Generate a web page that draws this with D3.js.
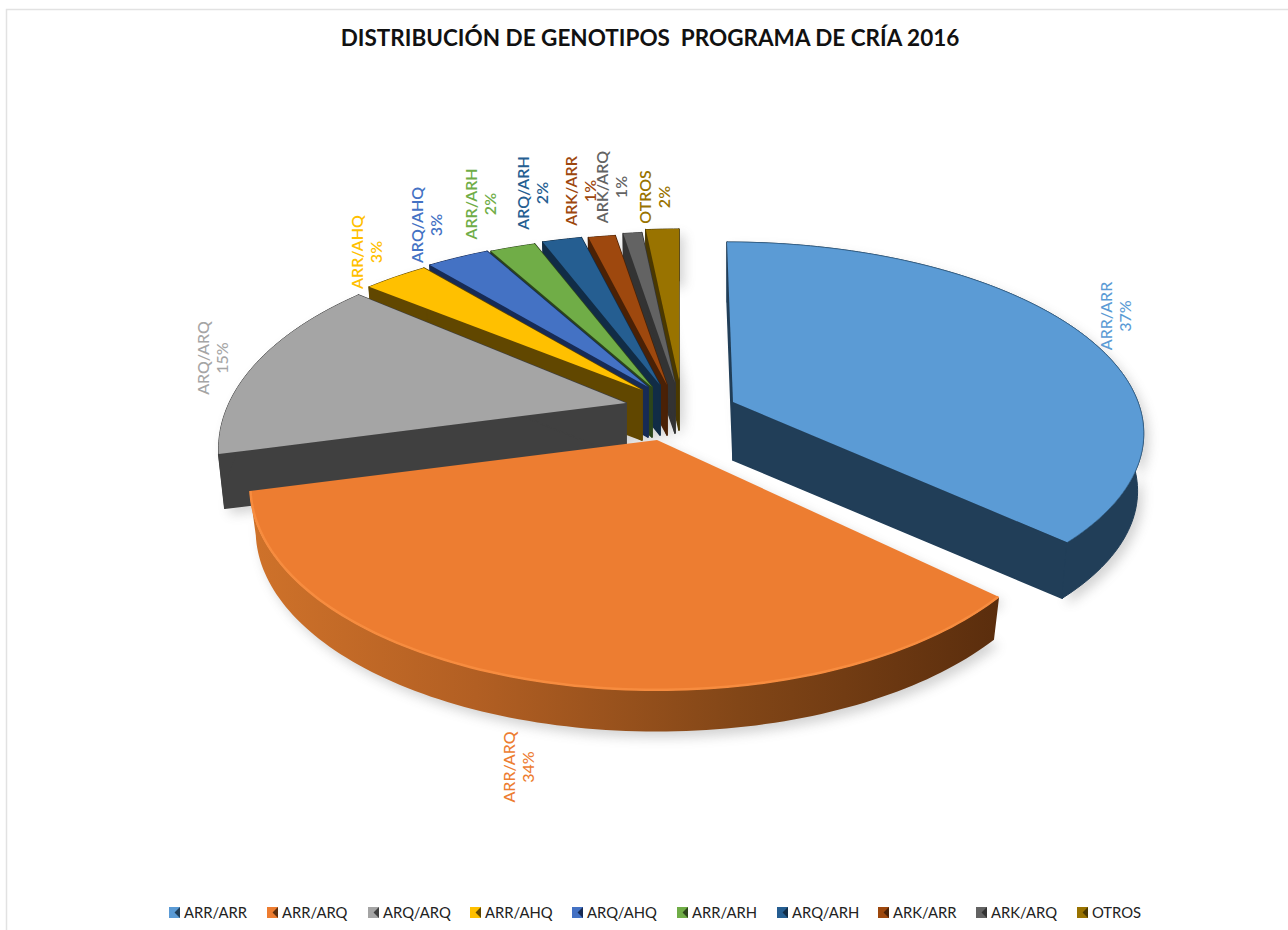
<!DOCTYPE html>
<html><head><meta charset="utf-8">
<script src="https://cdn.jsdelivr.net/npm/d3@7/dist/d3.min.js"></script>
<style>html,body{margin:0;padding:0;background:#fff}svg{display:block}text{font-family:Lato,"Open Sans",sans-serif}</style>
</head><body><svg id="c" width="1288" height="930"></svg>
<script>
const titleText = "DISTRIBUCIÓN DE GENOTIPOS  PROGRAMA DE CRÍA 2016";
const categories = ["ARR/ARR","ARR/ARQ","ARQ/ARQ","ARR/AHQ","ARQ/AHQ","ARR/ARH","ARQ/ARH","ARK/ARR","ARK/ARQ","OTROS"];
const values = [37,34,15,3.1,3,2.2,1.9,1.3,0.9,1.6];
const topColors = ["#5b9bd5","#ed7d31","#a5a5a5","#ffc000","#4472c4","#70ad47","#255e91","#9e480e","#636363","#997300"];
const wallColors = ["#213e58","#5d2f0e","#404040","#614700","#172b55","#2c451b","#112c46","#4a2106","#333333","#4a3800"];

// layout: per-slice exploded apex position on the page, wall depth and projection
const apexX = [733,657,626,642,648,652,660,667,675,679];
const apexY = [402,440,403,390,387,387,385,385,383,380];
const depth = [58,45,55,50,50,50,50,50,50,50];
const radX  = [405,397,397,405,405,405,405,405,405,405];
const radY  = [184,194,194,185,185,185,185,185,185,185];
const persp = [0.15,0.225,0.225,0.225,0.225,0.225,0.225,0.225,0.225,0.225];
const shear = [0.0375,0,0,0,0,0,0,0,0,0];
const labelPos = [[1107,316],[510,767],[204,358],[358,252],[418,225],[472,204],[524,193],[572,191],[603,187],[646,197]];
const legendX = [169,267,368,470,572,677,777,878,976,1077];

const svg = d3.select("#c");
const defs = svg.append("defs");
defs.append("filter").attr("id","blur").attr("x","-10%").attr("y","-10%").attr("width","120%").attr("height","120%")
  .append("feGaussianBlur").attr("stdDeviation",6);
const g1 = defs.append("linearGradient").attr("id","wall1").attr("gradientUnits","userSpaceOnUse")
  .attr("x1",250).attr("x2",1002).attr("y1",0).attr("y2",0);
[[0,"#cf722a"],[0.3,"#b25f23"],[0.65,"#824617"],[1,"#5a2d0d"]].forEach(s=>g1.append("stop").attr("offset",s[0]).attr("stop-color",s[1]));

// frame
svg.append("path").attr("d","M6.5,930V9.5H1288").attr("fill","none").attr("stroke","#e2e2e2").attr("stroke-width",1.5);

svg.append("text").attr("x",650).attr("y",46).attr("text-anchor","middle")
  .attr("font-size",22.5).attr("font-weight",700).attr("fill","#111").style("white-space","pre").text(titleText);

const pie = d3.pie().sort(null).value(d=>d)(values);
function proj(i,a,f,dz){
  const p = -Math.cos(a), s = 1/(1-persp[i]*p);
  const sy = f*radY[i]*p*s;
  return [apexX[i]+f*radX[i]*Math.sin(a)*s+shear[i]*sy, apexY[i]+sy+dz];
}
const line = d3.line();
function arcPts(i,f,dz){
  const d = pie[i], n = Math.max(4,Math.ceil((d.endAngle-d.startAngle)/0.02));
  return d3.range(n+1).map(j=>proj(i,d.startAngle+(d.endAngle-d.startAngle)*j/n,f,dz));
}
function topPath(i){ return line([[apexX[i],apexY[i]],...arcPts(i,1,0)])+"Z"; }
function solidPath(i){
  const D=depth[i], t=arcPts(i,1,0), b=arcPts(i,0.985,D);
  return line([[apexX[i],apexY[i]],...t,...b.slice().reverse(),[apexX[i],apexY[i]+D]])+"Z";
}

// soft shadow below all slices
svg.append("g").attr("filter","url(#blur)").attr("opacity",0.26).attr("transform","translate(5,6)")
  .selectAll("path").data(pie).join("path").attr("fill","#555").attr("d",(d,i)=>solidPath(i));

// painter's order: blue, then small slices from back right to left, then grey, orange
const order = [0,9,8,7,6,5,4,3,2,1];
order.forEach(i=>{
  const g = svg.append("g");
  const d = pie[i], D = depth[i];
  const A=[apexX[i],apexY[i]], A2=[A[0],A[1]+D];
  const s0=proj(i,d.startAngle,1,0), s1=proj(i,d.startAngle,0.985,D);
  const e0=proj(i,d.endAngle,1,0), e1=proj(i,d.endAngle,0.985,D);
  const w = wallColors[i];
  if(i!==1){
    g.append("path").attr("d",line([A,s0,s1,A2])+"Z").attr("fill",w).attr("stroke",w).attr("stroke-width",1.5).attr("stroke-linejoin","round");
    g.append("path").attr("d",line([A,e0,e1,A2])+"Z").attr("fill",w).attr("stroke",w).attr("stroke-width",1.5).attr("stroke-linejoin","round");
  }
  g.append("path").attr("d",line([...arcPts(i,1,0),...arcPts(i,0.985,D).reverse()])+"Z")
    .attr("fill",i===1?"url(#wall1)":w).attr("stroke",i===1?"none":w).attr("stroke-linejoin","round");
  g.append("path").attr("d",topPath(i)).attr("fill",topColors[i]);
  if(i===1) g.append("path").attr("d",line(arcPts(i,0.998,0))).attr("fill","none").attr("stroke","#f78c3f").attr("stroke-width",2.5);
  if(i===0) g.append("path").attr("d",line(arcPts(i,1,0))).attr("fill","none").attr("stroke","#2f5f88").attr("stroke-width",1).attr("opacity",0.6);
});

// data labels
categories.forEach((c,i)=>{
  const [x,y]=labelPos[i];
  const t = svg.append("g").attr("fill",topColors[i]).attr("font-size",16).attr("font-weight",i>2?600:500);
  t.append("text").attr("transform",`translate(${x+5},${y}) rotate(-90)`).attr("text-anchor","middle").text(c);
  t.append("text").attr("transform",`translate(${x+24},${y}) rotate(-90)`).attr("text-anchor","middle").text(d3.format(".0f")(values[i])+"%");
});

// legend
categories.forEach((c,i)=>{
  const x=legendX[i], y=907, s=11, g=svg.append("g");
  g.append("rect").attr("x",x).attr("y",y).attr("width",s).attr("height",s).attr("fill",topColors[i]);
  g.append("path").attr("d",line([[x+s,y],[x+s,y+s],[x+s/2,y+s/2]])+"Z").attr("fill",wallColors[i]);
  g.append("path").attr("d",line([[x,y],[x,y+s],[x+s/2,y+s/2]])+"Z").attr("fill",topColors[i]).attr("opacity",0.75);
  svg.append("text").attr("x",x+15).attr("y",918).attr("font-size",14.8).attr("fill","#222").text(c);
});
</script></body></html>
